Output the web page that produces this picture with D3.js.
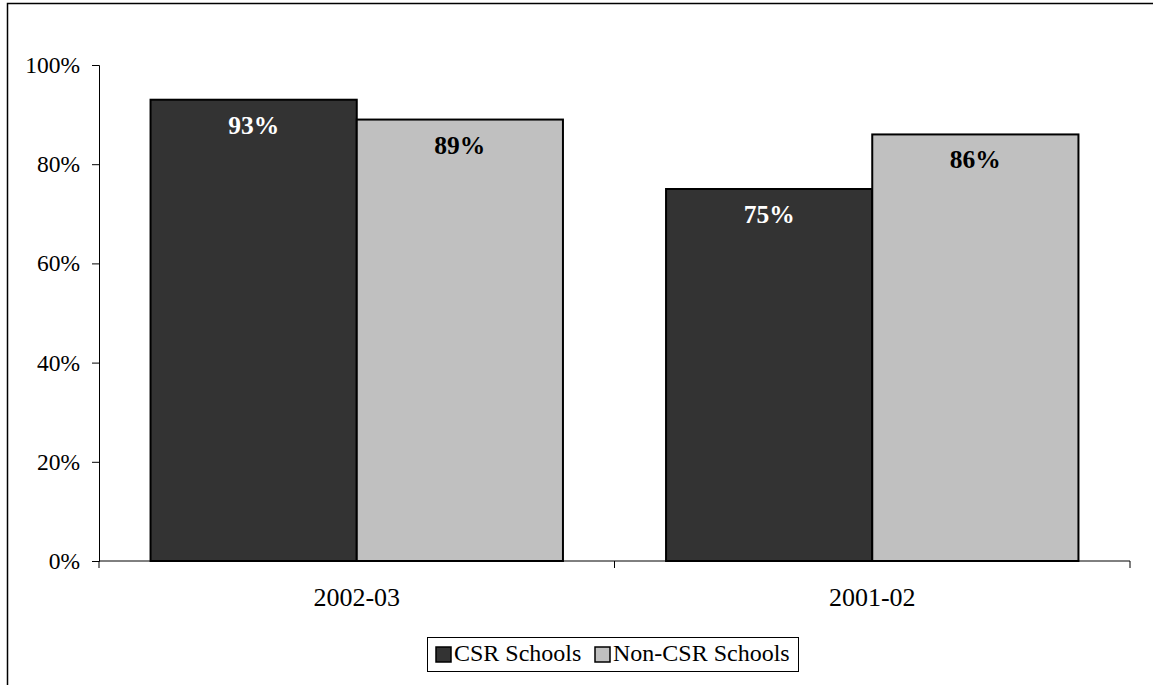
<!DOCTYPE html>
<html>
<head>
<meta charset="utf-8">
<script src="https://cdn.jsdelivr.net/npm/d3@7"></script>
<style>
  html, body { margin: 0; padding: 0; background: #fff; }
  svg { display: block; }
  text { font-family: "Liberation Serif", "Times New Roman", serif; fill: #000; }
</style>
</head>
<body>
<svg id="chart" width="1153" height="685"></svg>
<script>
// Share of schools, by school year
const categories = ["2002-03", "2001-02"];
const seriesNames = ["CSR Schools", "Non-CSR Schools"];
const csrValues = [93, 75];
const nonCsrValues = [89, 86];
const yTicks = [0, 20, 40, 60, 80, 100];
const seriesColors = ["#333333", "#c0c0c0"];
const labelColors = ["#ffffff", "#000000"];

const rows = categories.map((c, i) => ({
  category: c,
  values: [csrValues[i], nonCsrValues[i]]
}));

const svg = d3.select("#chart");

// outer frame
svg.append("rect")
  .attr("x", 7.5).attr("y", 3.5)
  .attr("width", 1160).attr("height", 700)
  .attr("fill", "#fff")
  .attr("stroke", "#000").attr("stroke-width", 1.5);

const plot = { left: 99, right: 1130, top: 65, bottom: 561 };

const x = d3.scaleBand()
  .domain(categories)
  .range([plot.left, plot.right])
  .paddingInner(0.2)
  .paddingOuter(0.1);

const xSub = d3.scaleBand()
  .domain(seriesNames)
  .range([0, x.bandwidth()])
  .padding(0);

const y = d3.scaleLinear()
  .domain([0, 100])
  .range([plot.bottom, plot.top]);

// y axis
const yAxis = svg.append("g")
  .attr("transform", `translate(${plot.left},0)`)
  .call(d3.axisLeft(y).tickValues(yTicks).tickFormat(d => d + "%").tickSize(7).tickPadding(12));
yAxis.select(".domain").attr("stroke", "#000");
yAxis.selectAll(".tick line").attr("stroke", "#000");
yAxis.selectAll(".tick text")
  .style("font-size", "23.5px")
  .attr("fill", "#000");

// bars
const groups = svg.append("g").selectAll("g")
  .data(rows)
  .join("g")
  .attr("transform", d => `translate(${x(d.category)},0)`);

groups.selectAll("rect")
  .data(d => d.values.map((v, i) => ({ series: seriesNames[i], value: v, idx: i })))
  .join("rect")
  .attr("x", d => xSub(d.series))
  .attr("y", d => y(d.value))
  .attr("width", xSub.bandwidth())
  .attr("height", d => y(0) - y(d.value))
  .attr("fill", d => seriesColors[d.idx])
  .attr("stroke", "#000")
  .attr("stroke-width", 2);

groups.selectAll("text.val")
  .data(d => d.values.map((v, i) => ({ series: seriesNames[i], value: v, idx: i })))
  .join("text")
  .attr("class", "val")
  .attr("x", d => xSub(d.series) + xSub.bandwidth() / 2)
  .attr("y", d => y(d.value) + 34)
  .attr("text-anchor", "middle")
  .style("font-size", "25.5px")
  .attr("font-weight", "bold")
  .style("fill", d => labelColors[d.idx])
  .text(d => d.value + "%");

// x axis: baseline with ticks at category boundaries
const xg = svg.append("g");
xg.append("line")
  .attr("x1", plot.left).attr("x2", plot.right)
  .attr("y1", y(0)).attr("y2", y(0))
  .attr("stroke", "#000");
const boundaries = [plot.left].concat(categories.map(c => x(c) + x.bandwidth() + x.step() * x.paddingInner() / 2));
boundaries[boundaries.length - 1] = plot.right;
xg.selectAll("line.tick")
  .data(boundaries)
  .join("line")
  .attr("class", "tick")
  .attr("x1", d => d).attr("x2", d => d)
  .attr("y1", y(0)).attr("y2", y(0) + 7)
  .attr("stroke", "#000");
xg.selectAll("text")
  .data(categories)
  .join("text")
  .attr("x", d => x(d) + x.bandwidth() / 2)
  .attr("y", y(0) + 45)
  .attr("text-anchor", "middle")
  .style("font-size", "26px")
  .text(d => d);

// legend
const legend = svg.append("g");
legend.append("rect")
  .attr("x", 427.5).attr("y", 637.5)
  .attr("width", 371).attr("height", 34)
  .attr("fill", "#fff").attr("stroke", "#000").attr("stroke-width", 1);
const legendX = [436, 595];
seriesNames.forEach((name, i) => {
  legend.append("rect")
    .attr("x", legendX[i]).attr("y", 647)
    .attr("width", 15).attr("height", 15)
    .attr("fill", seriesColors[i])
    .attr("stroke", "#000").attr("stroke-width", 1.5);
  legend.append("text")
    .attr("x", legendX[i] + 18).attr("y", 661)
    .style("font-size", "24px")
    .text(name);
});
</script>
</body>
</html>
